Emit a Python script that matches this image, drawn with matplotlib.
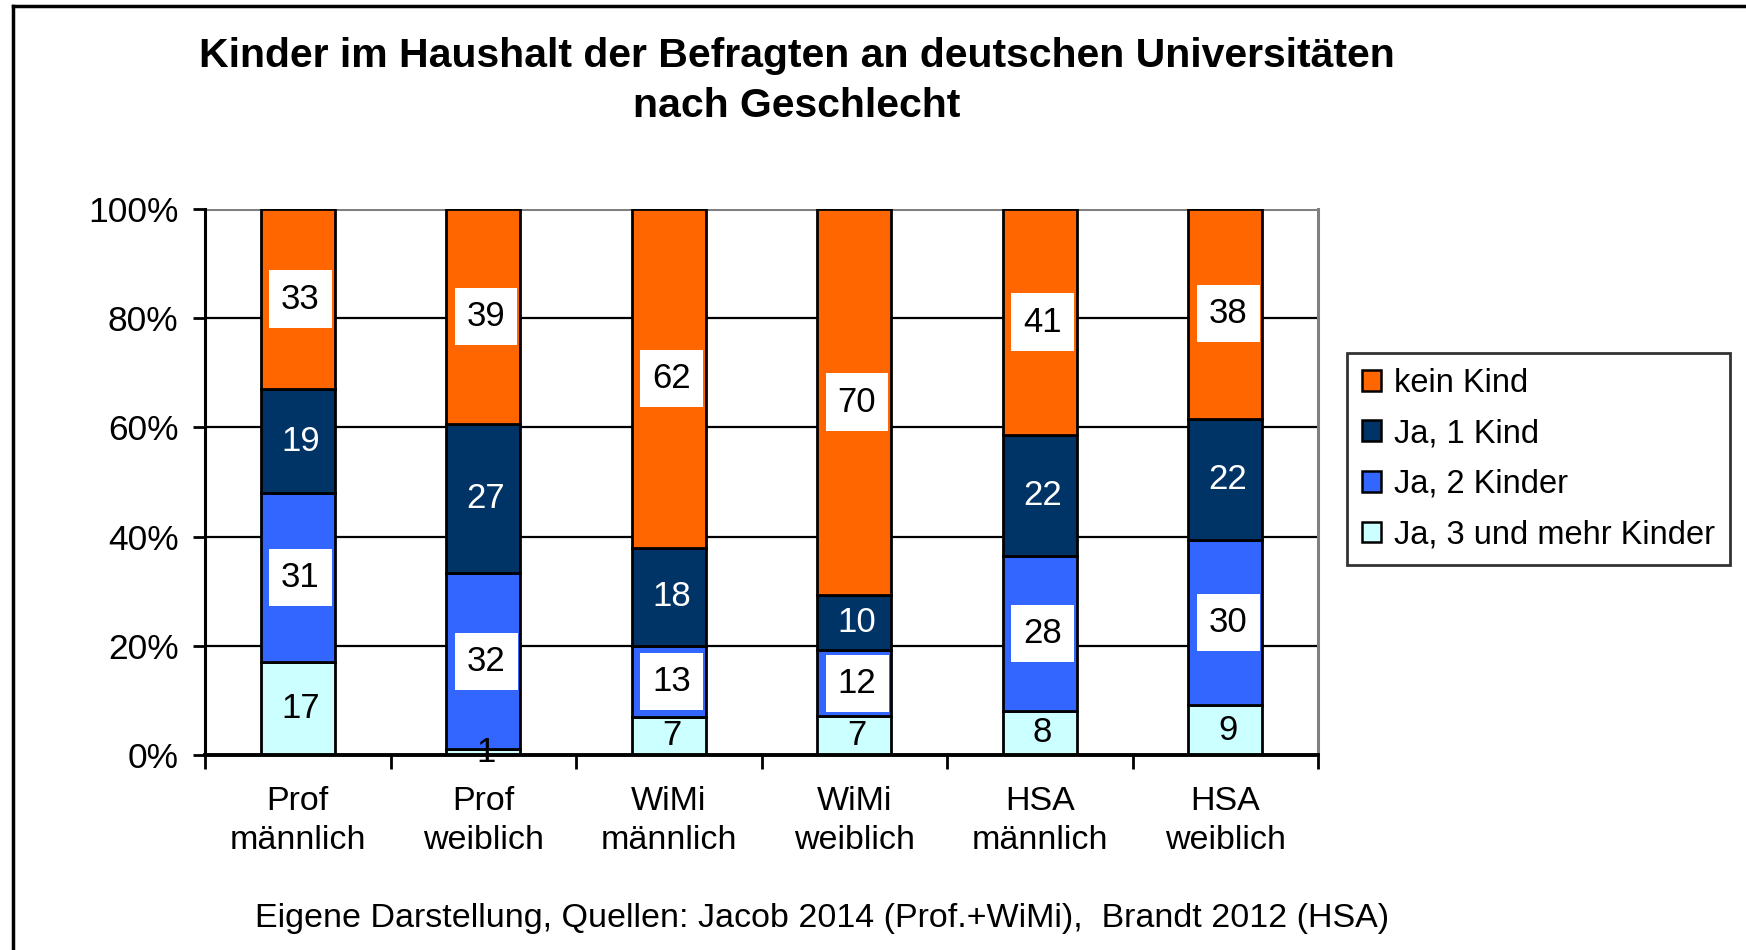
import matplotlib
matplotlib.use('Agg')
import matplotlib.pyplot as plt
from matplotlib.patches import Patch
from matplotlib.lines import Line2D
import numpy as np

plt.rcParams['font.family'] = ['Liberation Sans', 'DejaVu Sans']

categories = ['Prof\nmännlich', 'Prof\nweiblich', 'WiMi\nmännlich',
              'WiMi\nweiblich', 'HSA\nmännlich', 'HSA\nweiblich']
# bottom to top
drei_mehr = [17, 1, 7, 7, 8, 9]
zwei_kinder = [31, 32, 13, 12, 28, 30]
ein_kind = [19, 27, 18, 10, 22, 22]
kein_kind = [33, 39, 62, 70, 41, 38]

series = [drei_mehr, zwei_kinder, ein_kind, kein_kind]
names = ['Ja, 3 und mehr Kinder', 'Ja, 2 Kinder', 'Ja, 1 Kind', 'kein Kind']
colors = ['#CCFFFF', '#3366FF', '#003366', '#FF6600']
text_colors = ['black', 'black', 'white', 'black']
boxed = [False, True, False, True]

title = 'Kinder im Haushalt der Befragten an deutschen Universitäten\nnach Geschlecht'
source = 'Eigene Darstellung, Quellen: Jacob 2014 (Prof.+WiMi),  Brandt 2012 (HSA)'

W, H = 1746, 950
fig = plt.figure(figsize=(W / 100, H / 100), dpi=100)
ax = fig.add_axes([205 / W, 1 - 755 / H, 1113 / W, 546 / H])

vals = np.array(series, dtype=float)
totals = vals.sum(axis=0)
pct = vals / totals * 100
x = np.arange(len(categories))

# grid behind bars
for g in [20, 40, 60, 80]:
    ax.axhline(g, color='black', lw=1.6, zorder=0)
ax.axhline(100, color='#808080', lw=2.2, zorder=0)

bottom = np.zeros(len(categories))
for i in range(len(series)):
    ax.bar(x, pct[i], 0.4, bottom=bottom, color=colors[i],
           edgecolor='black', lw=2, zorder=2)
    for j in range(len(categories)):
        yc = bottom[j] + pct[i][j] / 2
        kw = {}
        if boxed[i]:
            kw['bbox'] = dict(boxstyle='square,pad=0.35', fc='white', ec='none')
        ax.text(x[j] + 0.015, yc, str(series[i][j]), ha='center', va='center',
                fontsize=25, color=text_colors[i], zorder=4, **kw)
    bottom += pct[i]

ax.set_xlim(-0.5, 5.5)
ax.set_ylim(0, 100)
ax.set_yticks([0, 20, 40, 60, 80, 100])
ax.set_yticklabels(['%d%%' % v for v in [0, 20, 40, 60, 80, 100]], fontsize=25.5)
ax.set_xticks(x)
ax.set_xticklabels(categories, fontsize=24.5, linespacing=1.35)
ax.tick_params(axis='x', which='major', length=0, pad=22)
ax.set_xticks(np.arange(-0.5, 6, 1), minor=True)
ax.tick_params(axis='x', which='minor', length=10, width=2, direction='out')
ax.tick_params(axis='y', length=9, width=2, direction='out', pad=10)

ax.spines['left'].set_linewidth(2.2)
ax.spines['bottom'].set_linewidth(2.8)
ax.spines['top'].set_visible(False)
ax.spines['right'].set_color('#808080')
ax.spines['right'].set_linewidth(2.2)

handles = [Patch(facecolor=colors[i], edgecolor='black', lw=1.8, label=names[i])
           for i in [3, 2, 1, 0]]
leg = fig.legend(handles=handles, loc='upper left',
                 bbox_to_anchor=(1347 / W, 1 - 353 / H), bbox_transform=fig.transFigure,
                 fontsize=23.5, frameon=True, fancybox=False, borderaxespad=0,
                 handlelength=0.6, handleheight=0.6, handletextpad=0.4,
                 labelspacing=0.6, borderpad=0.45)
leg.get_frame().set_edgecolor('black')
leg.get_frame().set_linewidth(2)

fig.text(797 / W, 1 - 81 / H, title, ha='center', va='center',
         fontsize=29.5, fontweight='bold', linespacing=1.4)
fig.text(822 / W, 1 - 919 / H, source, ha='center', va='center', fontsize=24.5)

# outer frame (cut at right and bottom)
fig.add_artist(Line2D([13 / W, 13 / W], [0, 1 - 6 / H], color='black', lw=2.5))
fig.add_artist(Line2D([13 / W, 1], [1 - 6 / H, 1 - 6 / H], color='black', lw=2.5))

fig.savefig('out.png', dpi=100)
